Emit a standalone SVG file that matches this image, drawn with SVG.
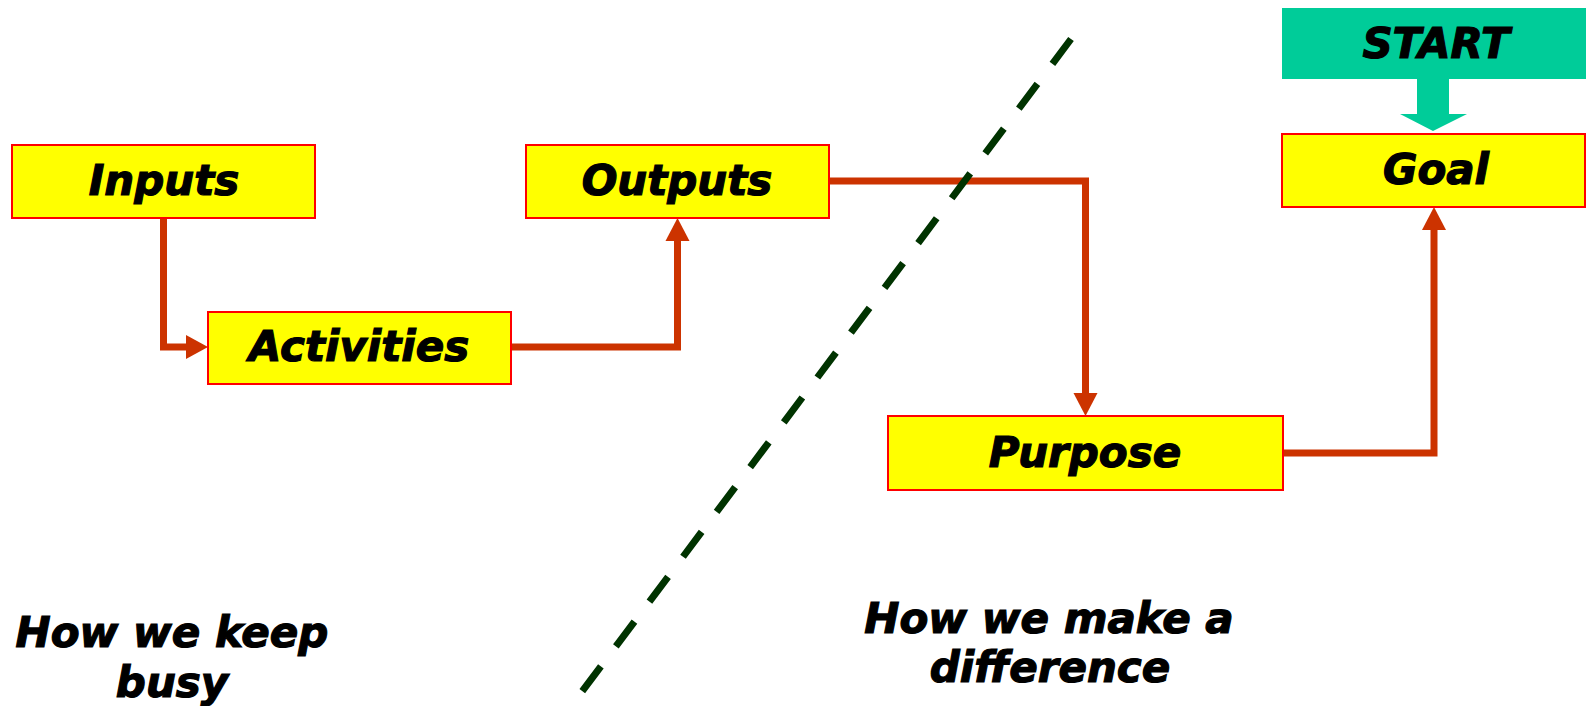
<svg xmlns="http://www.w3.org/2000/svg" width="1586" height="706" viewBox="0 0 1586 706">
<style>
.box{fill:#FFFF00;stroke:#FF0000;stroke-width:2}
.lbl{font-family:"DejaVu Sans",Verdana,sans-serif;font-weight:bold;font-style:italic;font-size:42px;fill:#000;stroke:#000;stroke-width:1.2;text-anchor:middle}
.conn{fill:none;stroke:#CC3300;stroke-width:7}
.head{fill:#CC3300}
</style>
<rect width="1586" height="706" fill="#FFFFFF"/>
<g id="connectors">
<polyline class="conn" points="163.5,218 163.5,347 186,347"/>
<polygon class="head" points="186,335 208,347 186,359"/>
<polyline class="conn" points="511,347 677.5,347 677.5,241"/>
<polygon class="head" points="665.5,241 677.5,218 689.5,241"/>
<polyline class="conn" points="829,181 1085.5,181 1085.5,393"/>
<polygon class="head" points="1073.5,393 1085.5,416 1097.5,393"/>
<polyline class="conn" points="1283,453 1434,453 1434,230"/>
<polygon class="head" points="1422,230 1434,207 1446,230"/>
<polygon fill="#00CC99" points="1417,79 1449,79 1449,114 1467,114 1433,131 1400,114 1417,114"/>
</g>
<line id="divider" x1="1071" y1="39" x2="581.7" y2="692" stroke="#003300" stroke-width="7" stroke-dasharray="31 25"/>
<g id="start">
<rect x="1282" y="8" width="304" height="71" fill="#00CC99"/>
<text class="lbl" x="1436" y="58">START</text>
</g>
<g id="inputs">
<rect class="box" x="12" y="145" width="303" height="73"/>
<text class="lbl" x="164" y="195">Inputs</text>
</g>
<g id="activities">
<rect class="box" x="208" y="312" width="303" height="72"/>
<text class="lbl" x="359" y="361">Activities</text>
</g>
<g id="outputs">
<rect class="box" x="526" y="145" width="303" height="73"/>
<text class="lbl" x="677" y="195">Outputs</text>
</g>
<g id="purpose">
<rect class="box" x="888" y="416" width="395" height="74"/>
<text class="lbl" x="1085" y="467">Purpose</text>
</g>
<g id="goal">
<rect class="box" x="1282" y="134" width="303" height="73"/>
<text class="lbl" x="1436" y="184">Goal</text>
</g>
<g id="caption-left">
<text class="lbl" x="172" y="647">How we keep</text>
<text class="lbl" x="172" y="697">busy</text>
</g>
<g id="caption-right">
<text class="lbl" x="1049" y="633">How we make a</text>
<text class="lbl" x="1050" y="682">difference</text>
</g>
</svg>
